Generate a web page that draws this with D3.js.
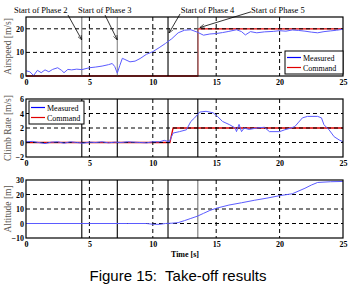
<!DOCTYPE html>
<html>
<head>
<meta charset="utf-8">
<script src="https://cdn.jsdelivr.net/npm/d3@7"></script>
<style>
    body { margin: 0; background: #fff; }
    svg { display: block; }
    .tick-label { font-family: "Liberation Serif", serif; font-size: 8px; font-weight: bold; fill: #000; }
    .y-title { font-family: "Liberation Serif", serif; font-size: 9.5px; fill: #5a5550; }
    .note { font-family: "Liberation Serif", serif; font-size: 8.5px; fill: #000; }
    .caption { font-family: "Liberation Sans", Arial, sans-serif; font-size: 15px; fill: #000; white-space: pre; }
</style>
</head>
<body>
<div id="chart"></div>
<script>
"use strict";

// ---- data ----
const xTicks = [0, 5, 10, 15, 20, 25];
const phaseStarts = [4.4, 7.2, 11.2, 13.55];

const airspeedTime = [0, 0.3, 0.6, 0.9, 1.2, 1.5, 1.8, 2.1, 2.5, 2.8, 3.0, 3.3, 3.6, 4.0, 4.4, 5.0, 5.5, 6.0, 6.5, 6.8,
    7.0, 7.2, 7.4, 7.6, 7.8, 8.2, 8.6, 9.0, 9.5, 10.0, 10.5, 11.0, 11.5, 12.0, 12.5, 13.0, 13.5, 14.0, 14.5, 15.0,
    15.5, 16.0, 16.6, 17.0, 17.3, 17.7, 18.2, 18.8, 19.5, 20.0, 20.5, 21.0, 21.5, 22.0, 22.5, 23.0, 23.5, 24.0, 24.5, 25.0];
const airspeedMeasured = [2.2, 1.8, 0.2, 2.4, 1.4, 2.6, 1.8, 2.8, 3.5, 2.4, 1.4, 2.8, 2.6, 2.9, 2.7, 3.5, 3.8, 4.2, 4.8, 5.3,
    4.0, 1.2, 4.5, 7.5, 7.0, 6.0, 6.3, 7.4, 9.2, 10.3, 12.0, 13.8, 15.8, 18.3, 19.4, 19.6, 18.6, 17.3, 17.8, 18.0,
    18.4, 18.9, 19.6, 18.8, 17.4, 18.8, 18.3, 18.7, 18.9, 19.2, 19.0, 19.5, 19.3, 19.0, 18.6, 18.3, 18.8, 19.1, 19.4, 19.8];
const airspeedCmdTime = [0, 13.55, 13.55, 25];
const airspeedCmd = [0, 0, 20, 20];

const climbTime = [0, 0.5, 1.0, 1.5, 2.0, 2.5, 3.0, 3.5, 4.0, 4.5, 5.0, 5.5, 6.0, 6.5, 7.0, 7.5, 8.0, 8.5, 9.0, 9.5,
    10.0, 10.55, 10.9, 11.3, 11.6, 12.1, 12.65, 13.0, 13.3, 13.7, 14.2, 14.75, 15.1, 15.5, 16.06, 16.5, 16.6, 16.8,
    17.0, 17.2, 17.6, 18.2, 18.8, 19.2, 20.0, 20.4, 20.9, 21.2, 21.45, 21.8, 22.2, 23.0, 23.3, 23.5, 23.9, 24.3, 24.7, 25.0];
const climbMeasured = [0.1, 0.15, 0.0, -0.15, 0.05, 0.1, -0.1, 0.1, 0.0, -0.1, 0.05, 0.0, 0.1, -0.05, 0.05, 0.0, 0.1,
    0.05, 0.0, -0.05, 0.1, 0.1, 0.3, 0.1, 1.3, 1.5, 1.75, 2.9, 3.4, 4.2, 4.3, 4.1, 3.6, 2.9, 2.45, 2.0, 1.5, 2.5,
    1.5, 2.0, 1.8, 2.0, 2.1, 1.5, 1.5, 1.75, 2.0, 2.2, 2.7, 3.4, 3.6, 3.6, 3.4, 2.45, 1.75, 0.8, 0.35, 0.1];
const climbCmdTime = [0, 11.35, 11.6, 25];
const climbCmd = [0, 0, 2, 2];

const altTime = [0, 5, 8, 9.5, 10.0, 10.5, 11.0, 11.5, 12.0, 12.5, 13.0, 13.5, 14.0, 14.5, 15.0, 16.0, 17.0, 18.0,
    19.0, 20.0, 21.0, 22.0, 22.5, 23.0, 24.0, 25.0];
const altMeasured = [0, 0, 0, 0, -0.5, -0.6, 0, 0.2, 0.6, 2.0, 3.5, 5.0, 7.0, 9.0, 10.5, 12.7, 14.3, 16.0,
    17.5, 19.2, 20.5, 24.3, 26.5, 28.3, 28.8, 29.0];

const legendLabels = ["Measured", "Command"];
const phaseNotes = ["Start of Phase 2", "Start of Phase 3", "Start of Phase 4", "Start of Phase 5"];
const yTitles = ["Airspeed [m/s]", "Climb Rate [m/s]", "Altitude [m]"];
const xTitle = "Time [s]";
const caption = "Figure 15:  Take-off results";

// ---- layout ----
const width = 355, height = 294;
const left = 26, right = 343;
const BLUE = "#5b5bff", RED = "#e00000";

const panels = [
    {
        title: yTitles[0], domain: [0, 25], range: [76, 17], ticks: [0, 10, 20], grid: [10, 20],
        measured: d3.zip(airspeedTime, airspeedMeasured), command: d3.zip(airspeedCmdTime, airspeedCmd),
        phaseColors: ["#777", "#888", "#000", "#777"],
        legend: {x: 285, y: 51, w: 58, h: 23}
    },
    {
        title: yTitles[1], domain: [-2, 6], range: [157, 99], ticks: [-2, 0, 2, 4, 6], grid: [0, 2, 4],
        measured: d3.zip(climbTime, climbMeasured), command: d3.zip(climbCmdTime, climbCmd),
        phaseColors: ["#000", "#000", "#000", "#000"],
        legend: {x: 29, y: 101, w: 55, h: 23}
    },
    {
        title: yTitles[2], domain: [-10, 30], range: [238, 180], ticks: [-10, 0, 10, 20, 30], grid: [0, 10, 20],
        measured: d3.zip(altTime, altMeasured), command: null,
        phaseColors: ["#000", "#000", "#000", "#777"],
        legend: null
    }
];

const svg = d3.select("#chart").append("svg")
    .attr("width", width)
    .attr("height", height);

const defs = svg.append("defs");
defs.append("marker")
    .attr("id", "arrow")
    .attr("viewBox", "0 0 10 10")
    .attr("refX", 10).attr("refY", 5)
    .attr("markerWidth", 6).attr("markerHeight", 6)
    .attr("orient", "auto")
    .append("path")
    .attr("d", "M0,1 L10,5 L0,9")
    .attr("fill", "none")
    .attr("stroke", "#000")
    .attr("stroke-width", 1.2);

const xScale = d3.scaleLinear().domain([0, 25]).range([left, right]);
const xGrid = xTicks.slice(1, -1);

panels.forEach(p => {
    const yScale = d3.scaleLinear().domain(p.domain).range(p.range);
    const g = svg.append("g");
    const line = d3.line().x(d => xScale(d[0])).y(d => yScale(d[1]));
    const top = p.range[1], bottom = p.range[0];

    // command first, grid above it, measured on top
    if (p.command) {
        g.append("path").datum(p.command)
            .attr("d", line).attr("fill", "none")
            .attr("stroke", RED).attr("stroke-width", 1.3);
    }

    g.selectAll(".hgrid").data(p.grid).join("line")
        .attr("x1", left).attr("x2", right)
        .attr("y1", d => yScale(d)).attr("y2", d => yScale(d))
        .attr("stroke", "#000").attr("stroke-width", 1).attr("stroke-dasharray", "4,3");
    g.selectAll(".vgrid").data(xGrid).join("line")
        .attr("x1", d => xScale(d)).attr("x2", d => xScale(d))
        .attr("y1", top).attr("y2", bottom)
        .attr("stroke", "#000").attr("stroke-width", 1).attr("stroke-dasharray", "4,3");

    g.selectAll(".phase").data(phaseStarts).join("line")
        .attr("x1", d => xScale(d)).attr("x2", d => xScale(d))
        .attr("y1", top).attr("y2", bottom)
        .attr("stroke", (d, i) => p.phaseColors[i]).attr("stroke-width", 1.1);

    g.append("path").datum(p.measured)
        .attr("d", line).attr("fill", "none")
        .attr("stroke", BLUE).attr("stroke-width", 1);

    // frame
    g.append("rect")
        .attr("x", left).attr("y", top)
        .attr("width", right - left).attr("height", bottom - top)
        .attr("fill", "none").attr("stroke", "#000").attr("stroke-width", 1.2);

    // axes
    const xAxis = d3.axisBottom(xScale).tickValues(xTicks).tickSize(0).tickPadding(3);
    const yAxis = d3.axisLeft(yScale).tickValues(p.ticks).tickSize(0).tickPadding(2);
    const gx = g.append("g").attr("transform", `translate(0,${bottom})`).call(xAxis);
    const gy = g.append("g").attr("transform", `translate(${left},0)`).call(yAxis);
    [gx, gy].forEach(a => {
        a.select(".domain").remove();
        a.selectAll("text").attr("class", "tick-label").attr("fill", null).attr("font-size", null).attr("font-family", null);
    });

    g.append("text")
        .attr("class", "y-title")
        .attr("text-anchor", "middle")
        .attr("transform", `translate(11,${(top + bottom) / 2}) rotate(-90)`)
        .text(p.title);

    if (p.legend) {
        const L = p.legend;
        const lg = g.append("g").attr("transform", `translate(${L.x},${L.y})`);
        lg.append("rect").attr("width", L.w).attr("height", L.h)
            .attr("fill", "#fff").attr("stroke", "#000").attr("stroke-width", 1);
        [BLUE, RED].forEach((c, i) => {
            const yy = 6.5 + i * 10;
            lg.append("line").attr("x1", 2).attr("x2", 16).attr("y1", yy).attr("y2", yy)
                .attr("stroke", c === BLUE ? "#0000ff" : c).attr("stroke-width", 1.2);
            lg.append("text").attr("class", "note").attr("x", 18).attr("y", yy + 3)
                .style("font-size", "8px").text(legendLabels[i]);
        });
    }

    p.yScale = yScale;
});

// phase annotations (in airspeed axes units)
const y1 = panels[0].yScale;
const notePos = [[-0.95, 26.7], [4.1, 26.7], [12.2, 26.7], [17.75, 26.7]];
const arrowFrom = [[3.31, 25.85], [6.23, 25.85], [12.15, 26.3], [17.75, 27.2]];
const arrowTo = [[4.4, 15.3], [7.2, 15.3], [11.28, 18.2], [13.7, 20.5]];
phaseNotes.forEach((t, i) => {
    svg.append("text").attr("class", "note")
        .attr("x", xScale(notePos[i][0])).attr("y", y1(notePos[i][1]))
        .text(t);
    svg.append("line")
        .attr("x1", xScale(arrowFrom[i][0])).attr("y1", y1(arrowFrom[i][1]))
        .attr("x2", xScale(arrowTo[i][0])).attr("y2", y1(arrowTo[i][1]))
        .attr("stroke", "#000").attr("stroke-width", 0.8)
        .attr("marker-end", "url(#arrow)");
});

svg.append("text").attr("class", "tick-label")
    .attr("text-anchor", "middle")
    .attr("x", 185).attr("y", 257)
    .text(xTitle);

svg.append("text").attr("class", "caption")
    .attr("text-anchor", "middle")
    .attr("x", 178).attr("y", 281)
    .text(caption);
</script>
</body>
</html>
